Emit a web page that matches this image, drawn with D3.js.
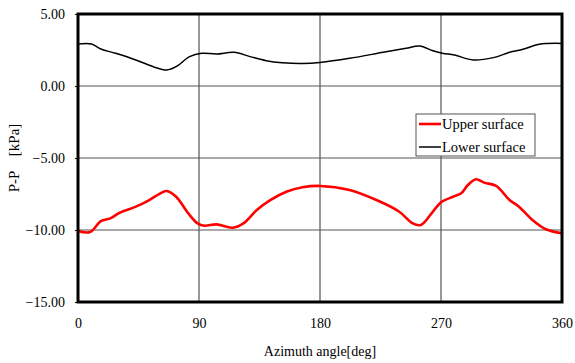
<!DOCTYPE html>
<html>
<head>
<meta charset="utf-8">
<script src="https://cdn.jsdelivr.net/npm/d3@7"></script>
<style>
  body { margin: 0; background: #fff; }
  svg text { font-family: "Liberation Serif", "Times New Roman", serif !important; }
</style>
</head>
<body>
<div id="chart"></div>
<script>
// azimuth angles [deg] and pressure values [kPa]
const upperAngle = [0, 9, 17, 24, 31, 43, 53, 60, 66, 73, 82, 89, 94, 103, 115, 123, 133, 143, 155, 167, 180,
  202, 222, 239, 249, 255, 263, 270, 279, 285, 290, 296, 302, 311, 321, 328, 338, 348, 360];
const upperValue = [-10.07, -10.14, -9.38, -9.19, -8.8, -8.38, -7.92, -7.52, -7.29, -7.69, -8.84, -9.54, -9.7, -9.61, -9.84, -9.54, -8.61, -7.92, -7.34, -7.03, -6.94,
  -7.22, -7.92, -8.73, -9.54, -9.65, -8.84, -8.08, -7.69, -7.45, -6.88, -6.48, -6.71, -6.94, -7.92, -8.38, -9.31, -9.95, -10.23];

const lowerAngle = [0, 10, 17, 28, 43, 56, 66, 73, 83, 92, 103, 116, 128, 140, 152, 167, 180,
  202, 227, 244, 254, 264, 271, 280, 294, 309, 321, 331, 343, 360];
const lowerValue = [2.92, 2.92, 2.57, 2.27, 1.81, 1.34, 1.11, 1.34, 2.04, 2.27, 2.22, 2.34, 2.04, 1.76, 1.62, 1.57, 1.64,
  1.92, 2.34, 2.62, 2.78, 2.45, 2.27, 2.15, 1.81, 1.97, 2.34, 2.55, 2.9, 2.96];

const xTicks = [0, 90, 180, 270, 360];
const yTicks = [5, 0, -5, -10, -15];
const seriesNames = ['Upper surface', 'Lower surface'];
const seriesColors = ['#ff0000', '#000000'];

const width = 575, height = 363;
const margin = { top: 14, right: 13, bottom: 61, left: 78 };
const w = width - margin.left - margin.right;
const h = height - margin.top - margin.bottom;

const svg = d3.select('#chart').append('svg')
  .attr('width', width)
  .attr('height', height);

const g = svg.append('g')
  .attr('transform', 'translate(' + margin.left + ',' + margin.top + ')');

const x = d3.scaleLinear().domain([0, 360]).range([0, w]);
const y = d3.scaleLinear().domain([-15, 5]).range([h, 0]);

// grid lines
g.append('g').selectAll('line.vg')
  .data(xTicks.slice(1, -1))
  .enter().append('line')
  .attr('x1', d => x(d)).attr('x2', d => x(d))
  .attr('y1', 0).attr('y2', h)
  .attr('stroke', '#333').attr('stroke-width', 1);

g.append('g').selectAll('line.hg')
  .data(yTicks.slice(1, -1))
  .enter().append('line')
  .attr('x1', 0).attr('x2', w)
  .attr('y1', d => y(d)).attr('y2', d => y(d))
  .attr('stroke', '#555').attr('stroke-width', 1);

// axes (labels only)
const yAxis = g.append('g')
  .call(d3.axisLeft(y).tickValues(yTicks).tickFormat(d3.format('.2f')).tickSize(3).tickPadding(10))
  .attr('font-family', 'Liberation Serif');
yAxis.select('.domain').remove();
yAxis.selectAll('text').attr('font-size', 14).attr('fill', '#000');

const xAxis = g.append('g')
  .attr('transform', 'translate(0,' + h + ')')
  .call(d3.axisBottom(x).tickValues(xTicks).tickSize(0).tickPadding(16))
  .attr('font-family', 'Liberation Serif');
xAxis.select('.domain').remove();
xAxis.selectAll('text').attr('font-size', 14).attr('fill', '#000');

// lines
const line = d3.line()
  .x(d => x(d[0]))
  .y(d => y(d[1]))
  .curve(d3.curveCatmullRom.alpha(0.5));

g.append('path')
  .datum(lowerAngle.map((a, i) => [a, lowerValue[i]]))
  .attr('fill', 'none')
  .attr('stroke', seriesColors[1])
  .attr('stroke-width', 1.5)
  .attr('d', line);

g.append('path')
  .datum(upperAngle.map((a, i) => [a, upperValue[i]]))
  .attr('fill', 'none')
  .attr('stroke', seriesColors[0])
  .attr('stroke-width', 2.6)
  .attr('d', line);

// frame
g.append('rect')
  .attr('x', 0).attr('y', 0)
  .attr('width', w).attr('height', h)
  .attr('fill', 'none')
  .attr('stroke', '#000')
  .attr('stroke-width', 3);

// legend
const legend = g.append('g')
  .attr('transform', 'translate(' + (416 - margin.left) + ',' + (114 - margin.top) + ')');
legend.append('rect')
  .attr('width', 119).attr('height', 42)
  .attr('fill', '#fff')
  .attr('stroke', '#555')
  .attr('stroke-width', 1);
seriesNames.forEach((name, i) => {
  legend.append('line')
    .attr('x1', 3).attr('x2', 25)
    .attr('y1', 10 + i * 23).attr('y2', 10 + i * 23)
    .attr('stroke', seriesColors[i])
    .attr('stroke-width', i === 0 ? 2.6 : 1.5);
  legend.append('text')
    .attr('x', 26).attr('y', 10 + i * 23)
    .attr('dy', '0.35em')
    .attr('font-size', 14.5)
    .text(name);
});

// axis titles
svg.append('text')
  .attr('x', margin.left + w / 2)
  .attr('y', 356)
  .attr('text-anchor', 'middle')
  .attr('font-size', 14)
  .text('Azimuth angle[deg]');

svg.append('text')
  .attr('transform', 'translate(19,158) rotate(-90)')
  .attr('text-anchor', 'middle')
  .attr('font-size', 15)
  .attr('xml:space', 'preserve')
  .text('P-P\u3000[kPa]');
</script>
</body>
</html>
